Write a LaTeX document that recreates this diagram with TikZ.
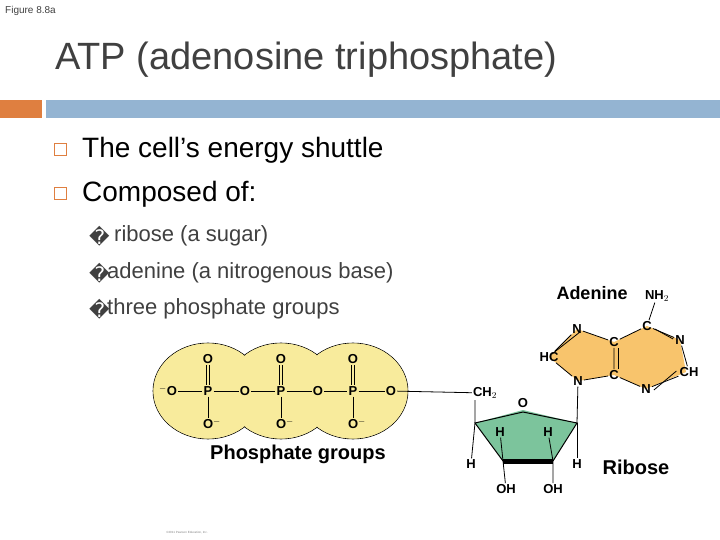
\documentclass[tikz,border=0pt]{standalone}
\usepackage{fontspec}
\usetikzlibrary{calc}
\setmainfont{Liberation Sans}
\newfontfamily\dv{DejaVu Sans}
\definecolor{bluebar}{HTML}{94B4D2}
\definecolor{orbar}{HTML}{DF7F40}
\definecolor{yel}{HTML}{F8EB9C}
\definecolor{ade}{HTML}{F8C46C}
\definecolor{rib}{HTML}{7CC49C}
\definecolor{txt}{HTML}{404040}
\begin{document}
\begin{tikzpicture}[x=1pt,y=-1pt,
  atm/.style={font=\bfseries\fontsize{13}{13}\selectfont,inner sep=1pt},
  bond/.style={line width=0.8pt},
  body/.style={anchor=west,text=black,inner sep=0pt}]
\useasboundingbox (0,0) rectangle (720,540);
\node[anchor=west,inner sep=0,font=\fontsize{10}{10}\selectfont,text=txt] (fig) at (5,11) {Figure 8.8a};
\node[anchor=west,inner sep=0,font=\fontsize{38}{38}\selectfont,text=txt] (title) at (55,60) {ATP (adenosine triphosphate)};
\fill[orbar] (0,100) rectangle (42,118);
\fill[bluebar] (46,100) rectangle (720,118);
% bullets
\draw[orbar,line width=1pt] (54,144) rectangle (66,156);
\draw[orbar,line width=1pt] (54,188) rectangle (66,200);
\node[body,font=\fontsize{28}{28}\selectfont] (b1) at (82,150) {The cell’s energy shuttle};
\node[body,font=\fontsize{28}{28}\selectfont] (b2) at (82,194) {Composed of:};
\node[body,text=txt,font=\dv\fontsize{20}{20}\selectfont] (s1b) at (89,236) {�};
\node[body,text=txt,font=\dv\fontsize{20}{20}\selectfont] (s2b) at (89,273) {�};
\node[body,text=txt,font=\dv\fontsize{20}{20}\selectfont] (s3b) at (89,309) {�};
\node[body,text=txt,font=\fontsize{22}{22}\selectfont] (s1) at (114,236) {ribose (a sugar)};
\node[body,text=txt,font=\fontsize{22}{22}\selectfont] (s2) at (107,273) {adenine (a nitrogenous base)};
\node[body,text=txt,font=\fontsize{22}{22}\selectfont] (s3) at (107,309) {three phosphate groups};
% phosphates
\foreach \c in {208,281,353} \fill[yel] (\c,391) ellipse (55 and 48);
\foreach \c in {208,281,353} \draw[line width=0.6pt] (\c,391) ellipse (55 and 48);
\foreach \c in {208,281,353} \fill[yel] (\c,391) ellipse (54.4 and 47.4);
\node[atm] (o0) at (168,391) {$^{-}$O};
\node[atm] (p1) at (208,391) {P};
\node[atm] (o1) at (245,391) {O};
\node[atm] (p2) at (281,391) {P};
\node[atm] (o2) at (318,391) {O};
\node[atm] (p3) at (353,391) {P};
\node[atm] (o3) at (391,391) {O};
\foreach \p/\i in {p1/1,p2/2,p3/3}{
  \node[atm] (t\i) at ($(\p)+(0,-32)$) {O};
  \node[atm] (b\i) at ($(\p)+(4,33)$) {O$^{-}$};
}
\foreach \a/\b in {o0/p1,p1/o1,o1/p2,p2/o2,o2/p3,p3/o3} \draw[bond] (\a) -- (\b);
\foreach \i in {1,2,3}{
  \draw[bond] ([xshift=-1.5pt]t\i.south) -- ([xshift=-1.5pt]p\i.north);
  \draw[bond] ([xshift=1.5pt]t\i.south) -- ([xshift=1.5pt]p\i.north);
  \draw[bond] (p\i.south) -- ($(b\i.north)+(-4,0)$);
}
\node[font=\fontsize{20}{20}\selectfont\bfseries,inner sep=0] (pg) at (298,454) {Phosphate groups};
% ribose
\node[atm] (ch2) at (485,393) {CH$_2$};
\coordinate (rl) at (475,423);
\coordinate (rr) at (577,423);
\coordinate (rbl) at (503,461);
\coordinate (rbr) at (553,461);
\coordinate (ro) at (523,410);
\fill[rib] (rl) -- (ro) -- (rr) -- (rbr) -- (rbl) -- cycle;
\draw[line width=1pt] (rbl) -- (rl) -- (523,412);
\draw[line width=1pt] (523,412) -- (rr) -- (rbr);
\draw[line width=5pt] (rbl) -- (rbr);
\node[atm,fill=white,inner sep=0.5pt] (o4) at (523,403) {O};
\node[atm] (h1) at (500,432) {H};
\node[atm] (h2) at (548,432) {H};
\node[atm] (h3) at (471,464) {H};
\node[atm] (h4) at (577,464) {H};
\node[atm] (oh1) at (506,489) {OH};
\node[atm] (oh2) at (553,489) {OH};
\draw[bond] (o3) -- (ch2);
\draw[bond] (475,400) -- (rl) -- (h3);
\draw[bond] (rr) -- (h4);
\draw[bond] (h1) -- (rbl) -- (oh1);
\draw[bond] (h2) -- (rbr) -- (oh2);
\node[font=\fontsize{20}{20}\selectfont\bfseries,inner sep=0] (ribl) at (636,467) {Ribose};
% adenine
\coordinate (a1) at (577,329);
\coordinate (a2) at (549,357);
\coordinate (a3) at (578,381);
\coordinate (a4) at (614,375);
\coordinate (a5) at (614,342);
\coordinate (a6) at (647,326);
\coordinate (a7) at (680,340);
\coordinate (a8) at (686,372);
\coordinate (a9) at (646,389);
\fill[ade] (a1) -- (a2) -- (a3) -- (a4) -- (a9) -- (a8) -- (a7) -- (a6) -- (a5) -- cycle;
\node[atm] (n1) at (a1) {N};
\node[atm] (hc) at (a2) {HC};
\node[atm] (n2) at (a3) {N};
\node[atm] (c1) at (a4) {C};
\node[atm] (c2) at (a5) {C};
\node[atm] (c3) at (a6) {C};
\node[atm] (n3) at (a7) {N};
\node[atm] (ch) at ($(a8)+(3,0)$) {CH};
\node[atm] (n4) at (a9) {N};
\node[atm] (nh2) at (657,296) {NH$_2$};
\draw[bond] (n1) -- (hc) (hc) -- (n2) (n2) -- (c1) (c1) -- (c2) (c2) -- (n1) (c2) -- (c3) (c3) -- (n3) (n3) -- (ch) (ch) -- (n4) (n4) -- (c1) (c3) -- (nh2);
\draw[bond] ([shift={(3,3)}]n1.center) -- ([shift={(3,-3)}]hc.center);
\draw[bond] ([xshift=4pt]c1.north) -- ([xshift=4pt]c2.south);
\draw[bond] ([shift={(2,3)}]c3.east) -- ([shift={(-1,-1)}]n3.west);
\draw[bond] ([shift={(-2,-1)}]ch.west) -- ([shift={(2,1)}]n4.east);
\draw[bond] (n2) -- (rr);
\node[font=\fontsize{18}{18}\selectfont\bfseries,inner sep=0] (adl) at (592,293) {Adenine};
\node[font=\fontsize{3}{3}\selectfont,text=gray,inner sep=0] (cp) at (187,533) {©2011 Pearson Education, Inc.};
\end{tikzpicture}
\end{document}
